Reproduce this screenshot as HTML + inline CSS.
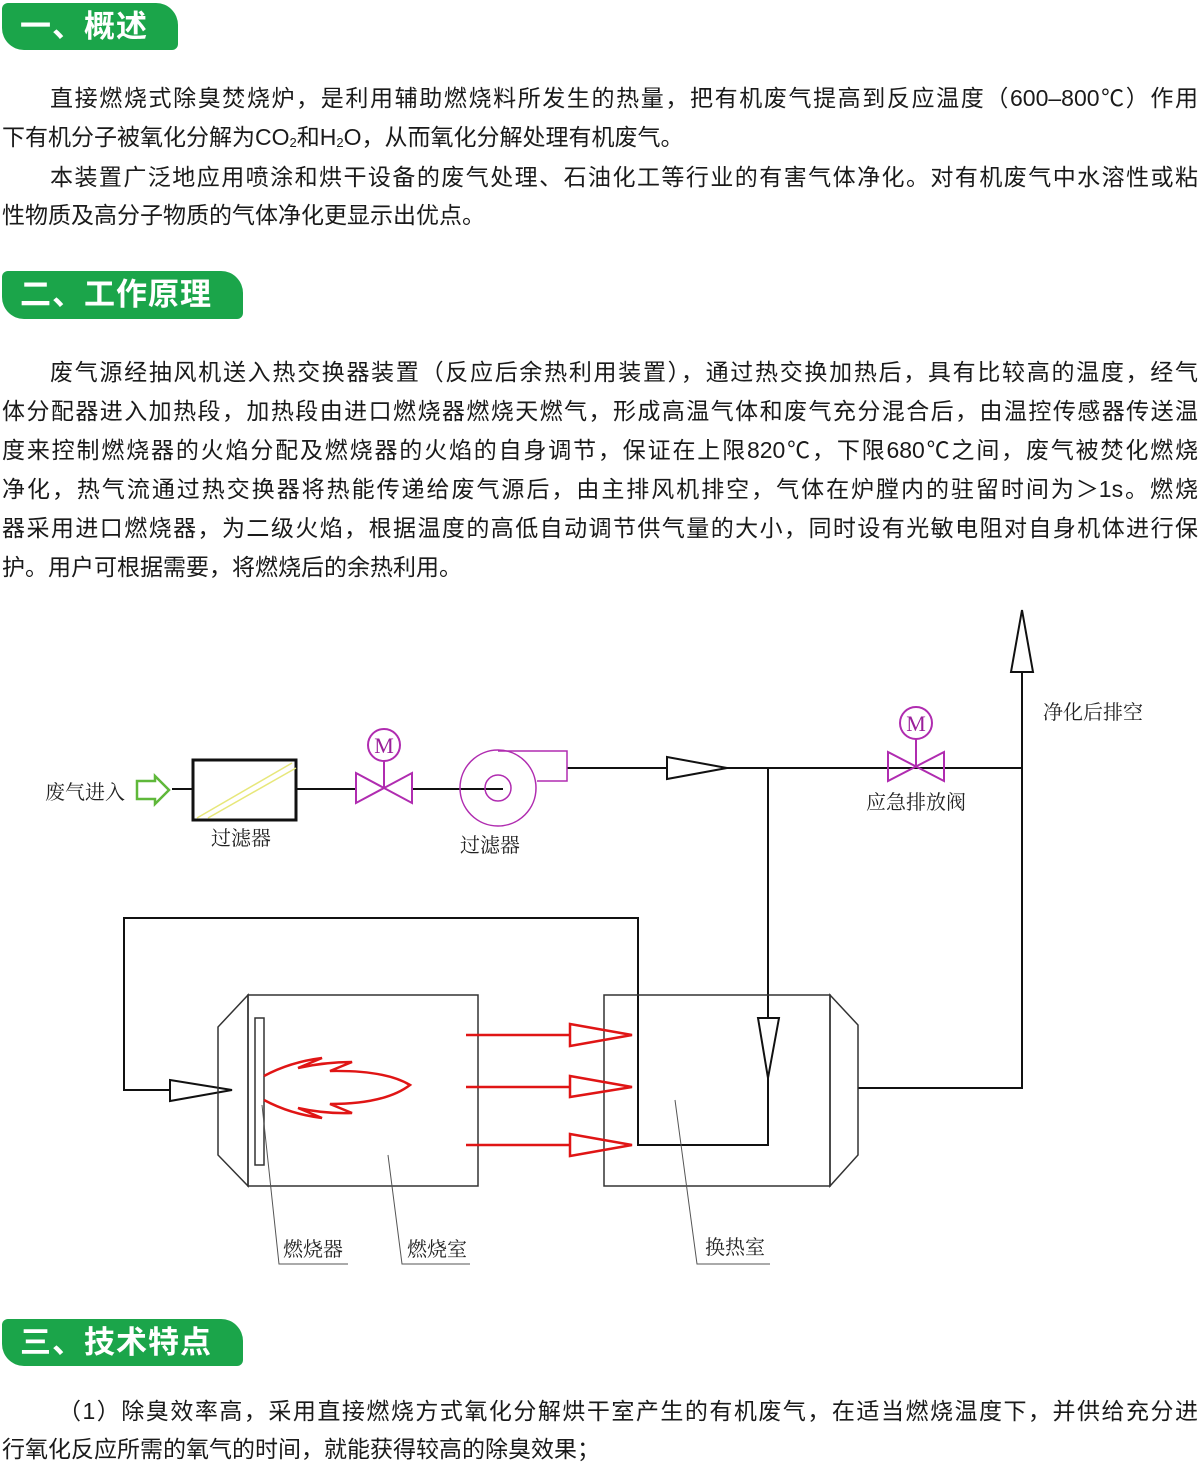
<!DOCTYPE html>
<html><head><meta charset="utf-8"><style>
body{margin:0;width:1200px;height:1470px;background:#fff;position:relative;overflow:hidden;font-family:"Liberation Sans","Noto Sans CJK SC",sans-serif;color:#1a1a1a}
.b{position:absolute;left:2px;background:#1ba54a;color:#fff;font-weight:bold;font-size:31px;border-radius:6px 22px 6px 22px;box-sizing:border-box;padding-left:18px;line-height:48px;letter-spacing:1px}
.l{position:absolute;left:2px;width:1196px;font-size:23px;white-space:nowrap;text-align:justify;text-align-last:justify;line-height:30px}
.l.s{text-align-last:left}
.i{left:50px;width:1148px}
sub{font-size:13px;vertical-align:-2px;line-height:0}
</style></head><body>
<div class="b" style="top:3px;width:176px;height:47px">一、概述</div>
<div class="l i" style="top:83px">直接燃烧式除臭焚烧炉，是利用辅助燃烧料所发生的热量，把有机废气提高到反应温度（600–800℃）作用</div>
<div class="l s" style="top:122px">下有机分子被氧化分解为CO<sub>2</sub>和H<sub>2</sub>O，从而氧化分解处理有机废气。</div>
<div class="l i" style="top:162px">本装置广泛地应用喷涂和烘干设备的废气处理、石油化工等行业的有害气体净化。对有机废气中水溶性或粘</div>
<div class="l s" style="top:200px">性物质及高分子物质的气体净化更显示出优点。</div>
<div class="b" style="top:271px;width:241px;height:48px">二、工作原理</div>
<div class="l i" style="top:357px">废气源经抽风机送入热交换器装置（反应后余热利用装置），通过热交换加热后，具有比较高的温度，经气</div>
<div class="l" style="top:396px">体分配器进入加热段，加热段由进口燃烧器燃烧天燃气，形成高温气体和废气充分混合后，由温控传感器传送温</div>
<div class="l" style="top:435px">度来控制燃烧器的火焰分配及燃烧器的火焰的自身调节，保证在上限820℃，下限680℃之间，废气被焚化燃烧</div>
<div class="l" style="top:474px">净化，热气流通过热交换器将热能传递给废气源后，由主排风机排空，气体在炉膛内的驻留时间为＞1s。燃烧</div>
<div class="l" style="top:513px">器采用进口燃烧器，为二级火焰，根据温度的高低自动调节供气量的大小，同时设有光敏电阻对自身机体进行保</div>
<div class="l s" style="top:552px">护。用户可根据需要，将燃烧后的余热利用。</div>
<svg style="position:absolute;left:0;top:0" width="1200" height="1470" font-family="Liberation Serif,Noto Serif CJK SC,serif">
<g fill="none" stroke="#111" stroke-width="2">
<line x1="172" y1="789" x2="192" y2="789"/>
<rect x="193" y="760" width="103" height="60" stroke-width="3"/>
<line x1="296" y1="789" x2="356" y2="789"/>
<line x1="412" y1="789" x2="503" y2="789"/>
<polyline points="567,768 1022,768"/>
<polygon points="667,757 727,768 667,779" fill="#fff"/>
<polyline points="768,768 768,1145 638,1145 638,918 124,918 124,1090 170,1090"/>
<polygon points="170,1080 232,1090 170,1101" fill="#fff"/>
<polygon points="758,1018 779,1018 768,1078" fill="#fff"/>
<polyline points="1022,672 1022,1088 858,1088"/>
<polygon points="1011,672 1033,672 1022,610" fill="#fff"/>
</g>
<g fill="none" stroke="#333" stroke-width="1.5">
<polygon points="248,995 218,1027 218,1155 248,1186"/>
<rect x="248" y="995" width="230" height="191"/>
<rect x="255" y="1018" width="9" height="147"/>
<rect x="604" y="995" width="226" height="191"/>
<polygon points="830,995 858,1025 858,1155 830,1186"/>
</g>
<g stroke="#555" stroke-width="1" fill="none">
<polyline points="262,1105 279,1264 348,1264"/>
<polyline points="388,1155 402,1264 470,1264"/>
<polyline points="675,1100 697,1264 770,1264"/>
</g>
<g stroke="#e7e77a" stroke-width="1.5"><line x1="197" y1="818" x2="292" y2="763"/><line x1="208" y1="818" x2="296" y2="768"/></g>
<polygon points="137,781 155,781 155,776 169,790 155,804 155,799 137,799" fill="#fff" stroke="#5fb83a" stroke-width="2.5"/>
<g stroke="#b02cb0" stroke-width="2" fill="none">
<polygon points="356,773 412,803 412,773 356,803"/>
<line x1="384" y1="761" x2="384" y2="789"/>
<circle cx="384" cy="745" r="16"/>
<polygon points="888,752 944,781 944,752 888,781"/>
<line x1="916" y1="739" x2="916" y2="767"/>
<circle cx="916" cy="723" r="16"/>
<circle cx="498" cy="788" r="38" stroke-width="1.5"/>
<circle cx="498" cy="788" r="13" stroke-width="1.5"/>
<polyline points="498,751 567,751 567,781 537,781" stroke-width="1.5"/>
</g>
<g fill="#9a1f9a" font-size="22" text-anchor="middle"><text x="384" y="753">M</text><text x="916" y="731">M</text></g>
<g stroke="#e01515" stroke-width="2.5" fill="none">
<line x1="466" y1="1035" x2="570" y2="1035"/><line x1="466" y1="1087" x2="570" y2="1087"/><line x1="466" y1="1145" x2="570" y2="1145"/>
<polygon points="570,1024 632,1035 570,1046"/><polygon points="570,1076 632,1087 570,1097"/><polygon points="570,1134 632,1145 570,1156"/>
<path d="M264,1076 Q290,1062 322,1058 L298,1068 Q325,1062 352,1062 L330,1071 Q385,1070 410,1085 Q385,1104 330,1104 L352,1113 Q325,1114 298,1108 L322,1118 Q290,1114 264,1100"/>
</g>
<g fill="#222" font-size="20">
<text x="45" y="799">废气进入</text>
<text x="211" y="845">过滤器</text>
<text x="460" y="852">过滤器</text>
<text x="866" y="809">应急排放阀</text>
<text x="1043" y="719">净化后排空</text>
<text x="283" y="1256">燃烧器</text>
<text x="407" y="1256">燃烧室</text>
<text x="705" y="1254">换热室</text>
</g>
</svg>
<div class="b" style="top:1319px;width:241px;height:47px">三、技术特点</div>
<div class="l i" style="top:1396px;left:58px;width:1140px">（1）除臭效率高，采用直接燃烧方式氧化分解烘干室产生的有机废气，在适当燃烧温度下，并供给充分进</div>
<div class="l s" style="top:1434px">行氧化反应所需的氧气的时间，就能获得较高的除臭效果；</div>
</body></html>
